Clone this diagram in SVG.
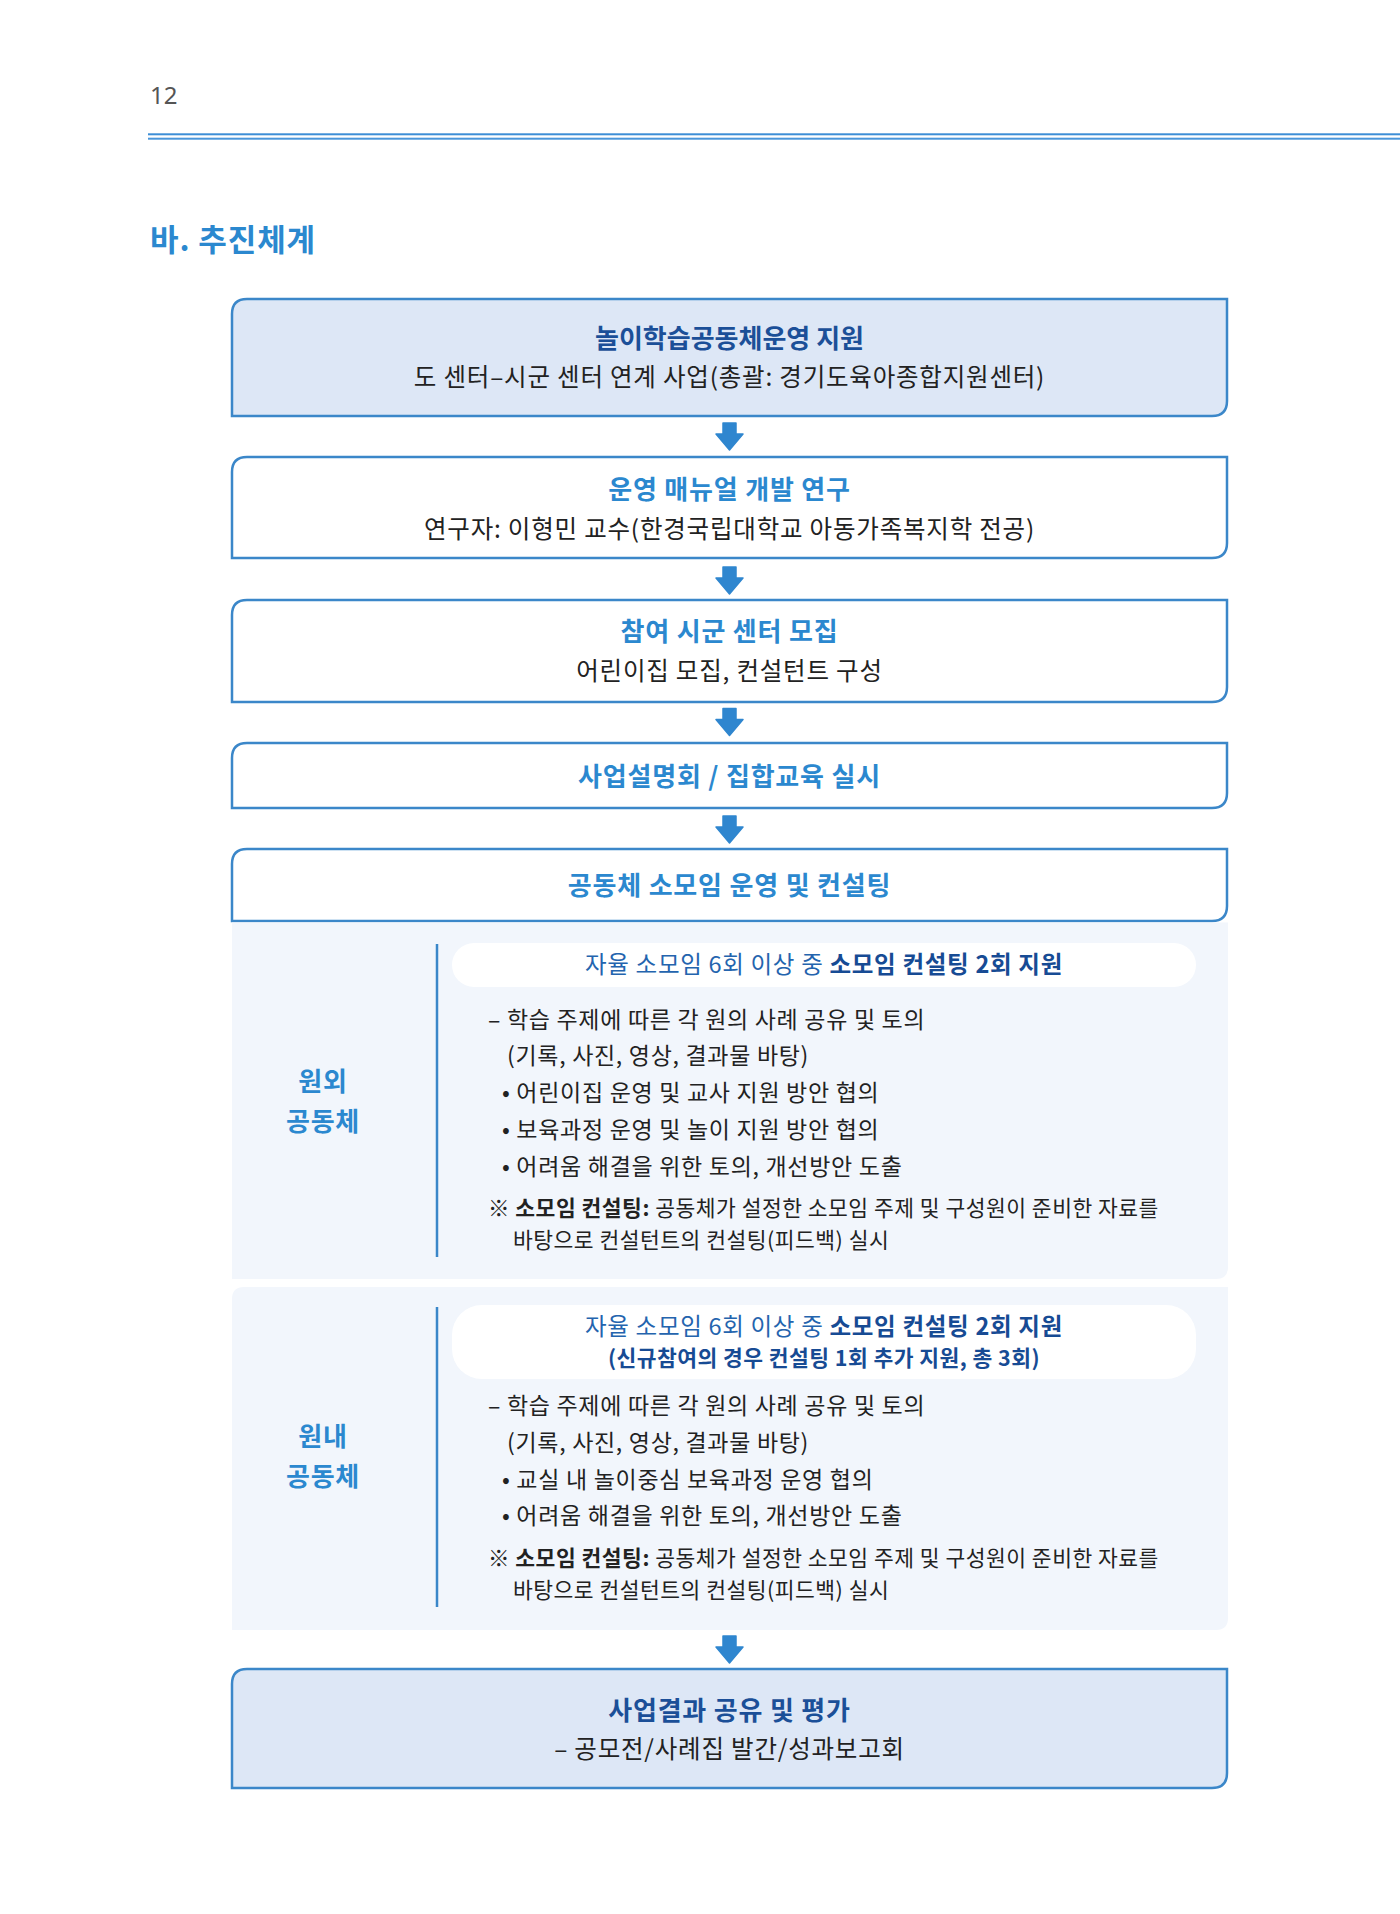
<svg xmlns="http://www.w3.org/2000/svg" width="1400" height="1914" viewBox="0 0 1400 1914">
<defs>
<style>
text{font-family:"Noto Sans CJK KR","Noto Sans",sans-serif;}
.box{fill:#ffffff;stroke:#3b87c9;stroke-width:2.5;}
.boxd{fill:#dde7f6;stroke:#3b87c9;stroke-width:2.5;}
.panel{fill:#f2f6fc;}
.pill{fill:#ffffff;}
.tdark{font-size:26px;font-weight:700;fill:#1b4f98;text-anchor:middle;}
.tlight{font-size:26px;font-weight:700;fill:#2b88cf;text-anchor:middle;letter-spacing:0.8px;}
.sub{font-size:24.5px;fill:#222222;text-anchor:middle;letter-spacing:0.8px;}
.body{font-size:23px;fill:#222222;letter-spacing:0.7px;}
.note{font-size:21.5px;fill:#222222;letter-spacing:0.5px;}
.lbl{font-size:26px;font-weight:700;fill:#2b88cf;text-anchor:middle;letter-spacing:0.8px;}
.pt{font-size:23.5px;fill:#2464ae;text-anchor:middle;letter-spacing:0.7px;}
.ptb{font-weight:700;fill:#174b94;}
.pt2{font-size:21.5px;font-weight:700;fill:#174b94;text-anchor:middle;letter-spacing:0.45px;}
.vline{stroke:#3a87c9;stroke-width:2.5;}
.arrow{fill:#2f86cf;stroke:#2f86cf;stroke-width:1.5;stroke-linejoin:round;}
</style>
<path id="arr" d="M -6.5 0 H 6.5 V 11 H 13.5 L 0 27 L -13.5 11 H -6.5 Z"/>
</defs>

<g id="header">
<text x="150" y="104" style="font-family:'Noto Sans',sans-serif;font-size:24px;fill:#555555;">12</text>
<rect x="148" y="133.3" width="1252" height="2" fill="#3d8ed6"/>
<rect x="148" y="137.7" width="1252" height="2" fill="#4a96da"/>
<text x="150" y="251" style="font-size:31px;font-weight:700;fill:#2b88cf;letter-spacing:0.9px;">바. 추진체계</text>
</g>

<g id="connectors">
<use href="#arr" class="arrow" transform="translate(729.5,423)"/>
<use href="#arr" class="arrow" transform="translate(729.5,567)"/>
<use href="#arr" class="arrow" transform="translate(729.5,708.5)"/>
<use href="#arr" class="arrow" transform="translate(729.5,816)"/>
<use href="#arr" class="arrow" transform="translate(729.5,1636)"/>
</g>

<g id="node1">
<path class="boxd" d="M 232 314 Q 232 299 247 299 H 1227 V 401 Q 1227 416 1212 416 H 232 Z"/>
<text class="tdark" x="729.5" y="348">놀이학습공동체운영 지원</text>
<text class="sub" x="729.5" y="386">도 센터–시군 센터 연계 사업(총괄: 경기도육아종합지원센터)</text>
</g>

<g id="node2">
<path class="box" d="M 232 472 Q 232 457 247 457 H 1227 V 543 Q 1227 558 1212 558 H 232 Z"/>
<text class="tlight" x="729.5" y="499">운영 매뉴얼 개발 연구</text>
<text class="sub" x="729.5" y="538">연구자: 이형민 교수(한경국립대학교 아동가족복지학 전공)</text>
</g>

<g id="node3">
<path class="box" d="M 232 615 Q 232 600 247 600 H 1227 V 687 Q 1227 702 1212 702 H 232 Z"/>
<text class="tlight" x="729.5" y="641">참여 시군 센터 모집</text>
<text class="sub" x="729.5" y="680">어린이집 모집, 컨설턴트 구성</text>
</g>

<g id="node4">
<path class="box" d="M 232 758 Q 232 743 247 743 H 1227 V 793 Q 1227 808 1212 808 H 232 Z"/>
<text class="tlight" x="729.5" y="786">사업설명회 / 집합교육 실시</text>
</g>

<g id="node5">
<path class="box" d="M 232 864 Q 232 849 247 849 H 1227 V 906 Q 1227 921 1212 921 H 232 Z"/>
<text class="tlight" x="729.5" y="895">공동체 소모임 운영 및 컨설팅</text>
</g>

<g id="panel1">
<path class="panel" d="M 232 922.5 H 1228 V 1267 Q 1228 1279 1216 1279 H 232 Z"/>
<line class="vline" x1="437" y1="944" x2="437" y2="1257"/>
<text class="lbl" x="323" y="1091">원외</text>
<text class="lbl" x="323" y="1131">공동체</text>
<rect class="pill" x="452" y="943" width="744" height="44" rx="22"/>
<text class="pt" x="824" y="973">자율 소모임 6회 이상 중 <tspan class="ptb">소모임 컨설팅 2회 지원</tspan></text>
<text class="body" x="488" y="1028">– 학습 주제에 따른 각 원의 사례 공유 및 토의</text>
<text class="body" x="507" y="1064">(기록, 사진, 영상, 결과물 바탕)</text>
<text class="body" x="502" y="1101">• 어린이집 운영 및 교사 지원 방안 협의</text>
<text class="body" x="502" y="1138">• 보육과정 운영 및 놀이 지원 방안 협의</text>
<text class="body" x="502" y="1175">• 어려움 해결을 위한 토의, 개선방안 도출</text>
<text class="note" x="488" y="1216">※ <tspan font-weight="700">소모임 컨설팅:</tspan> 공동체가 설정한 소모임 주제 및 구성원이 준비한 자료를</text>
<text class="note" x="513" y="1248">바탕으로 컨설턴트의 컨설팅(피드백) 실시</text>
</g>

<g id="panel2">
<path class="panel" d="M 232 1299 Q 232 1287 244 1287 H 1228 V 1618 Q 1228 1630 1216 1630 H 232 Z"/>
<line class="vline" x1="437" y1="1307" x2="437" y2="1607"/>
<text class="lbl" x="323" y="1446">원내</text>
<text class="lbl" x="323" y="1486">공동체</text>
<rect class="pill" x="452" y="1305" width="744" height="74" rx="30"/>
<text class="pt" x="824" y="1335">자율 소모임 6회 이상 중 <tspan class="ptb">소모임 컨설팅 2회 지원</tspan></text>
<text class="pt2" x="824" y="1366">(신규참여의 경우 컨설팅 1회 추가 지원, 총 3회)</text>
<text class="body" x="488" y="1414">– 학습 주제에 따른 각 원의 사례 공유 및 토의</text>
<text class="body" x="507" y="1451">(기록, 사진, 영상, 결과물 바탕)</text>
<text class="body" x="502" y="1488">• 교실 내 놀이중심 보육과정 운영 협의</text>
<text class="body" x="502" y="1524">• 어려움 해결을 위한 토의, 개선방안 도출</text>
<text class="note" x="488" y="1566">※ <tspan font-weight="700">소모임 컨설팅:</tspan> 공동체가 설정한 소모임 주제 및 구성원이 준비한 자료를</text>
<text class="note" x="513" y="1598">바탕으로 컨설턴트의 컨설팅(피드백) 실시</text>
</g>

<g id="node6">
<path class="boxd" d="M 232 1684 Q 232 1669 247 1669 H 1227 V 1773 Q 1227 1788 1212 1788 H 232 Z"/>
<text class="tdark" x="729.5" y="1720" style="letter-spacing:0.8px;">사업결과 공유 및 평가</text>
<text class="sub" x="729.5" y="1758">– 공모전/사례집 발간/성과보고회</text>
</g>
</svg>
